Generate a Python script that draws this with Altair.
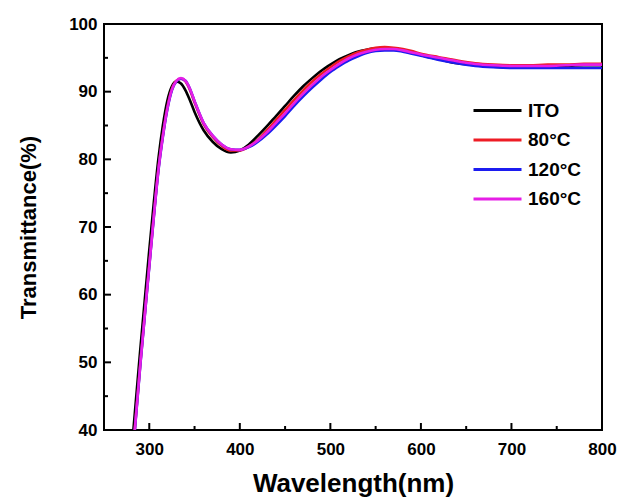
import altair as alt
import pandas as pd

WL = [280, 290, 300, 305, 310, 315, 320, 325, 330, 335, 340, 345, 350, 360, 370, 380, 390, 400,
      410, 420, 430, 440, 450, 460, 470, 480, 490, 500, 510, 520, 530, 540, 550, 560, 570, 580,
      590, 600, 620, 640, 660, 680, 700, 720, 740, 760, 780, 800]

ITO = [36.2, 51.8, 66.6, 73.6, 80.0, 85.0, 88.7, 90.8, 91.5, 91.2, 90.2, 88.7, 87.0, 84.3, 82.6, 81.5, 81.0, 81.3,
       82.2, 83.5, 84.9, 86.4, 87.9, 89.4, 90.8, 92.0, 93.1, 94.0, 94.8, 95.4, 95.9, 96.2, 96.4, 96.4, 96.3, 96.1,
       95.8, 95.4, 94.8, 94.2, 93.9, 93.7, 93.6, 93.6, 93.7, 93.8, 93.9, 93.9]

T80 = [33.8, 49.7, 64.4, 71.7, 78.5, 83.6, 87.7, 90.4, 91.6, 91.9, 91.5, 90.2, 88.4, 85.2, 83.3, 82.0, 81.3, 81.3,
       81.9, 82.9, 84.3, 85.8, 87.3, 88.8, 90.2, 91.5, 92.6, 93.6, 94.5, 95.2, 95.8, 96.2, 96.5, 96.6, 96.5, 96.3,
       96.0, 95.6, 95.1, 94.6, 94.2, 94.0, 93.9, 93.9, 94.0, 94.0, 94.1, 94.1]

T120 = [33.5, 49.4, 64.1, 71.4, 78.2, 83.3, 87.4, 90.2, 91.5, 91.9, 91.6, 90.4, 88.6, 85.4, 83.5, 82.2, 81.5, 81.4,
        81.8, 82.6, 83.7, 85.0, 86.4, 87.9, 89.3, 90.6, 91.8, 92.9, 93.8, 94.6, 95.2, 95.7, 96.0, 96.1, 96.1, 95.9,
        95.6, 95.3, 94.7, 94.2, 93.8, 93.6, 93.5, 93.5, 93.5, 93.5, 93.5, 93.5]

T160 = [33.6, 49.5, 64.2, 71.5, 78.3, 83.4, 87.5, 90.3, 91.6, 92.0, 91.6, 90.4, 88.6, 85.4, 83.5, 82.2, 81.5, 81.4,
        81.9, 82.8, 84.0, 85.4, 86.8, 88.3, 89.7, 91.0, 92.2, 93.2, 94.1, 94.9, 95.5, 95.9, 96.2, 96.3, 96.3, 96.1,
        95.8, 95.5, 95.0, 94.5, 94.1, 93.9, 93.8, 93.8, 93.8, 93.9, 94.0, 94.0]

SERIES = ["ITO", "80°C", "120°C", "160°C"]
COLORS = ["#000000", "#ee1c25", "#1c1cf0", "#e61ee6"]

X_MAJOR = [300, 400, 500, 600, 700, 800]
X_MINOR = [350, 450, 550, 650, 750]
Y_MAJOR = [40, 50, 60, 70, 80, 90, 100]
Y_MINOR = [45, 55, 65, 75, 85, 95]

FONT = "Liberation Sans"

rows = []
for name, vals in zip(SERIES, [ITO, T80, T120, T160]):
    for w, v in zip(WL, vals):
        rows.append({"wl": w, "T": v, "series": name})
df = pd.DataFrame(rows)

W, H = 498, 406
xscale = alt.Scale(domain=[250, 800], nice=False, zero=False)
yscale = alt.Scale(domain=[40, 100], nice=False, zero=False)

XAXIS = alt.Axis(values=X_MAJOR, title="Wavelength(nm)", ticks=False, domain=False, grid=False,
                 labelPadding=11, labelFont=FONT, labelFontSize=17, labelFontWeight="bold",
                 labelColor="black", titleFont=FONT, titleFontSize=26, titleFontWeight="bold",
                 titleColor="black", titlePadding=13, labelFlush=False)
YAXIS = alt.Axis(values=Y_MAJOR, title="Transmittance(%)", ticks=False, domain=False, grid=False,
                 labelPadding=7, labelFont=FONT, labelFontSize=17, labelFontWeight="bold",
                 labelColor="black", titleFont=FONT, titleFontSize=22, titleFontWeight="bold",
                 titleColor="black", titlePadding=28, labelFlush=False)

lines = alt.Chart(df).mark_line(strokeWidth=2.6, interpolate="monotone", clip=True).encode(
    x=alt.X("wl:Q", scale=xscale, axis=XAXIS),
    y=alt.Y("T:Q", scale=yscale, axis=YAXIS),
    color=alt.Color("series:N", scale=alt.Scale(domain=SERIES, range=COLORS),
                    legend=alt.Legend(title=None, orient="none", legendX=380, legendY=73,
                                      symbolType="M-2,0H2", symbolSize=576, symbolStrokeWidth=3,
                                      labelFont=FONT, labelFontSize=19, labelFontWeight="bold",
                                      labelColor="black", labelOffset=17, rowPadding=5.5)),
)

xmaj = alt.Chart(pd.DataFrame({"wl": X_MAJOR})).mark_rule(color="black", strokeWidth=2).encode(
    x=alt.X("wl:Q", scale=xscale, axis=XAXIS), y=alt.value(H), y2=alt.value(H - 7))
xmin = alt.Chart(pd.DataFrame({"wl": X_MINOR})).mark_rule(color="black", strokeWidth=2).encode(
    x=alt.X("wl:Q", scale=xscale, axis=XAXIS), y=alt.value(H), y2=alt.value(H - 4))
ymaj = alt.Chart(pd.DataFrame({"T": Y_MAJOR})).mark_rule(color="black", strokeWidth=2).encode(
    y=alt.Y("T:Q", scale=yscale, axis=YAXIS), x=alt.value(0), x2=alt.value(7))
ymin = alt.Chart(pd.DataFrame({"T": Y_MINOR})).mark_rule(color="black", strokeWidth=2).encode(
    y=alt.Y("T:Q", scale=yscale, axis=YAXIS), x=alt.value(0), x2=alt.value(4))

chart = alt.layer(lines, xmaj, xmin, ymaj, ymin).properties(
    width=W, height=H,
    padding={"left": 104, "top": 24, "right": 19, "bottom": 69},
    autosize=alt.AutoSizeParams(type="none"),
    background="white",
).configure_view(stroke="black", strokeWidth=2)

chart.save("out.html", embed_options={"renderer": "svg", "actions": False})
